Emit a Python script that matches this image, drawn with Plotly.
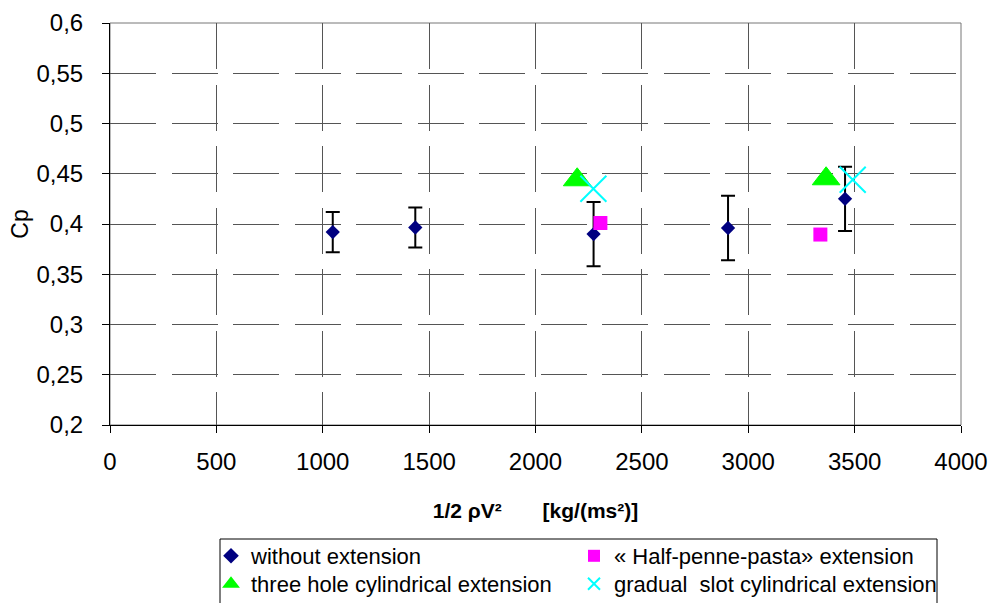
import plotly.graph_objects as go

# ---- data ----
x_without = [1047, 1435, 2273, 2905, 3455]
cp_without = [0.392, 0.3965, 0.390, 0.396, 0.425]
err_without = [0.020, 0.020, 0.032, 0.032, 0.032]

x_penne = [2305, 3339]
cp_penne = [0.401, 0.3895]

x_three = [2196, 3366]
cp_three = [0.444, 0.445]

x_gradual = [2272, 3491]
cp_gradual = [0.435, 0.444]

names = [
    "without extension",
    "« Half-penne-pasta» extension",
    "three hole cylindrical extension",
    "gradual  slot cylindrical extension",
]

FONT = "Liberation Sans, Arial, sans-serif"
W, H = 990, 603
L, R, T, B = 110, 29, 23, 178
PW, PH = W - L - R, H - T - B

fig = go.Figure()
fig.add_trace(go.Scatter(
    x=x_without, y=cp_without, mode="markers", name=names[0], legend="legend",
    marker=dict(symbol="diamond", size=11, color="#000080"),
    error_y=dict(type="data", array=err_without, visible=True,
                 color="black", thickness=2, width=7),
))
fig.add_trace(go.Scatter(
    x=x_penne, y=cp_penne, mode="markers", name=names[1], legend="legend",
    marker=dict(symbol="square", size=14, color="#FF00FF"),
))
fig.add_trace(go.Scatter(
    x=x_three, y=cp_three, mode="markers", name=names[2], legend="legend2",
    marker=dict(symbol="triangle-up", size=24, color="#00FF00",
                line=dict(color="#00FF00", width=1)),
))
fig.add_trace(go.Scatter(
    x=x_gradual, y=cp_gradual, mode="markers", name=names[3], legend="legend2",
    marker=dict(symbol="x-thin", size=26, color="#00FFFF",
                line=dict(color="#00FFFF", width=2)),
))

legend_common = dict(
    orientation="h",
    xref="container", x=211 / W, xanchor="left",
    yref="container", yanchor="middle",
    font=dict(size=22, family=FONT),
    borderwidth=0,
    entrywidth=318, entrywidthmode="pixels",
    itemsizing="constant", traceorder="normal",
    bgcolor="rgba(0,0,0,0)",
)

fig.update_layout(
    width=W, height=H,
    margin=dict(l=L, r=R, t=T, b=B, pad=0, autoexpand=False),
    paper_bgcolor="white", plot_bgcolor="white",
    font=dict(family=FONT, size=24, color="black"),
    separators=", ",
    showlegend=True,
    legend=dict(legend_common, y=1 - 556 / H),
    legend2=dict(legend_common, y=1 - 584 / H),
    xaxis=dict(
        range=[0, 4000], tick0=0, dtick=500,
        showline=True, linecolor="black", linewidth=1,
        ticks="outside", ticklen=7, tickcolor="black",
        showgrid=True, gridcolor="#555", gridwidth=1,
        griddash="46px,15.5px", zeroline=False,
        automargin=False, ticklabelstandoff=8,
        title=dict(text="<b>1/2 ρV²" + "\u00a0" * 7 + "[kg/(ms²)]</b>",
                   font=dict(size=21), standoff=29),
    ),
    yaxis=dict(
        range=[0.2, 0.6], tick0=0.2, dtick=0.05,
        showline=True, linecolor="black", linewidth=1,
        ticks="outside", ticklen=7, tickcolor="black",
        showgrid=True, gridcolor="#555", gridwidth=1,
        griddash="46px,15.5px", zeroline=False,
        automargin=False, ticklabelstandoff=14,
        title=dict(text="Cp", font=dict(size=23), standoff=1),
    ),
    shapes=[
        dict(type="rect", xref="paper", yref="paper", x0=0, x1=1, y0=0, y1=1,
             line=dict(color="#777", width=1), layer="below"),
        # legend frame (open at the page bottom as in the reference)
        dict(type="rect", xref="paper", yref="paper",
             x0=(220 - L) / PW, x1=(937 - L) / PW,
             y0=(H - B - 610) / PH, y1=(H - B - 539) / PH,
             line=dict(color="black", width=1), layer="below"),
    ],
)

fig.write_html("out.html")
